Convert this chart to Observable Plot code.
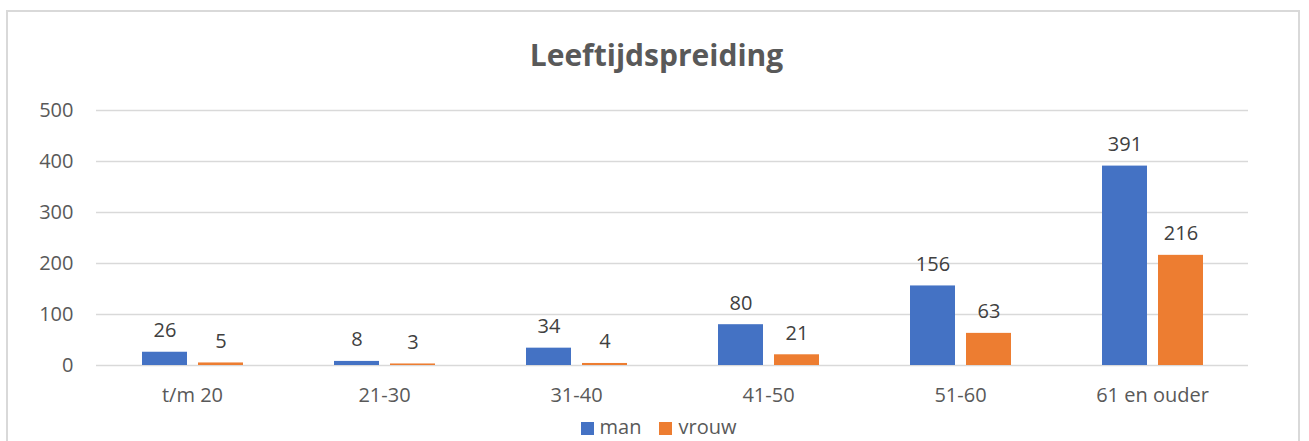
<!DOCTYPE html>
<html><head><meta charset="utf-8">
<script src="https://cdn.jsdelivr.net/npm/d3@7"></script>
<script src="https://cdn.jsdelivr.net/npm/@observablehq/plot@0.6"></script>
<style>
html,body{margin:0;padding:0;background:#fff;width:1309px;height:441px;overflow:hidden;font-family:"Open Sans",sans-serif;}
#frame{position:absolute;left:6px;top:10px;width:1294px;height:460px;border:2px solid #d9d9d9;box-sizing:border-box;}
#title{position:absolute;left:0;width:1309px;top:34px;text-align:center;font-weight:bold;font-size:30px;color:#595959;line-height:42px;padding-left:4px;box-sizing:border-box;}
#chart{position:absolute;left:0;top:80px;}
#legend{position:absolute;left:0;width:1309px;top:413px;text-align:center;font-size:20px;color:#595959;line-height:28px;padding-left:8px;box-sizing:border-box;}
#legend span.sw{display:inline-block;width:13px;height:13px;margin-right:6px;vertical-align:-1px;}
#legend span.item{margin:0 9px;}
</style></head>
<body>
<div id="frame"></div>
<div id="title">Leeftijdspreiding</div>
<div id="chart"></div>
<div id="legend"></div>
<script>
const categories = ["t/m 20","21-30","31-40","41-50","51-60","61 en ouder"];
const series = ["man","vrouw"];
const manValues = [26,8,34,80,156,391];
const vrouwValues = [5,3,4,21,63,216];
const yTicks = [0,100,200,300,400,500];
const colors = ["#4472C4","#ED7D31"];

const data = [];
categories.forEach((c,i)=>{
  data.push({cat:c, s:"man", v:manValues[i]});
  data.push({cat:c, s:"vrouw", v:vrouwValues[i]});
});

const chart = Plot.plot({
  width:1309, height:330,
  marginTop:30, marginBottom:45, marginLeft:94, marginRight:60,
  style:{fontFamily:"'Open Sans', sans-serif", fontSize:"20px", color:"#595959", background:"transparent"},
  fx:{domain:categories, padding:0, label:null, axis:null},
  x:{domain:series, axis:null, paddingInner:0.2, paddingOuter:0.8},
  y:{domain:[0,500], ticks:yTicks, label:null},
  color:{domain:series, range:colors},
  marks:[
    Plot.gridY(yTicks,{stroke:"#d9d9d9", strokeOpacity:1, strokeWidth:1.5}),
    Plot.axisY(yTicks,{tickSize:0, tickPadding:23, label:null, fontSize:20, fill:"#595959"}),
    Plot.axisFx({anchor:"bottom", tickSize:0, tickPadding:22, label:null, fontSize:20, fill:"#595959"}),
    Plot.barY(data,{fx:"cat", x:"s", y:"v", fill:"s"}),
    Plot.text(data,{fx:"cat", x:"s", y:"v", text:d=>String(d.v), lineAnchor:"bottom", dy:-15, fill:"#404040", fontSize:20})
  ]
});
document.getElementById("chart").appendChild(chart);

const lg = document.getElementById("legend");
series.forEach((s,i)=>{
  const it = document.createElement("span"); it.className="item";
  const sw = document.createElement("span"); sw.className="sw"; sw.style.background=colors[i];
  it.appendChild(sw); it.appendChild(document.createTextNode(s));
  lg.appendChild(it);
});
</script>
</body></html>
